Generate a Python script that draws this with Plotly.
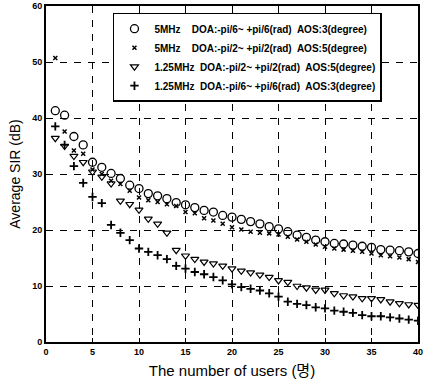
import plotly.graph_objects as go

users = list(range(1, 41))

sir_5mhz_pi6 = [41.3, 40.5, 36.7, 35.2, 32.1, 31.2, 30.1, 29.2, 28.0, 27.4,
                26.5, 26.1, 25.6, 24.9, 24.5, 24.0, 23.5, 23.2, 22.6, 22.3,
                21.9, 21.5, 21.1, 20.6, 20.2, 19.7, 19.1, 18.7, 18.2, 17.9,
                17.6, 17.5, 17.3, 17.1, 16.9, 16.5, 16.4, 16.3, 16.1, 15.8]

sir_5mhz_pi2 = [50.7, 37.6, 34.2, 33.6, 30.8, 30.0, 28.8, 28.2, 27.0, 25.8,
                25.3, 25.0, 24.6, 24.3, 23.2, 23.0, 22.1, 21.7, 21.1, 20.5,
                20.1, 19.7, 19.5, 19.4, 19.2, 18.8, 18.3, 17.9, 17.4, 17.0,
                16.7, 16.5, 16.3, 16.1, 15.8, 15.5, 15.3, 15.1, 14.8, 14.3]

sir_125mhz_pi2 = [36.4, 35.0, 33.2, 32.1, 30.4, 29.5, 28.3, 25.2, 24.6, 23.6,
                  22.0, 21.1, 19.5, 16.4, 15.4, 14.8, 14.3, 14.0, 13.6, 13.1,
                  12.7, 12.4, 12.0, 11.6, 11.0, 10.7, 10.0, 9.7, 9.3, 9.3,
                  8.7, 8.3, 8.1, 7.8, 7.8, 7.6, 7.2, 6.9, 6.7, 6.6]

sir_125mhz_pi6 = [38.5, 35.2, 31.4, 28.4, 25.9, 24.8, 20.9, 19.5, 18.2, 16.7,
                  16.1, 15.5, 14.8, 13.6, 13.1, 12.5, 12.1, 11.6, 11.0, 10.3,
                  9.8, 9.5, 9.2, 8.7, 8.1, 7.2, 6.8, 6.6, 6.2, 6.0,
                  5.6, 5.4, 5.2, 4.8, 4.6, 4.6, 4.4, 4.2, 4.0, 3.8]

names = [
    "5MHz    DOA:-pi/6~ +pi/6(rad)  AOS:3(degree)",
    "5MHz    DOA:-pi/2~ +pi/2(rad)  AOS:5(degree)",
    "1.25MHz  DOA:-pi/2~ +pi/2(rad)  AOS:5(degree)",
    "1.25MHz  DOA:-pi/6~ +pi/6(rad)  AOS:3(degree)",
]

x_ticks = [0, 5, 10, 15, 20, 25, 30, 35, 40]
y_ticks = [0, 10, 20, 30, 40, 50, 60]

fig = go.Figure()
fig.add_trace(go.Scatter(x=users, y=sir_5mhz_pi6, mode="markers", name=names[0],
                         marker=dict(symbol="circle-open", size=8, color="black",
                                     line=dict(width=1.3, color="black"))))
fig.add_trace(go.Scatter(x=users, y=sir_5mhz_pi2, mode="markers", name=names[1],
                         marker=dict(symbol="x-thin-open", size=4, color="black",
                                     line=dict(width=1.5, color="black"))))
fig.add_trace(go.Scatter(x=users, y=sir_125mhz_pi2, mode="markers", name=names[2],
                         marker=dict(symbol="triangle-down-open", size=7, color="black",
                                     line=dict(width=1.2, color="black"))))
fig.add_trace(go.Scatter(x=users, y=sir_125mhz_pi6, mode="markers", name=names[3],
                         marker=dict(symbol="cross-thin-open", size=6, color="black",
                                     line=dict(width=1.8, color="black"))))

axis_common = dict(
    showline=True, linecolor="black", linewidth=1.8, mirror=True,
    showgrid=True, gridcolor="black", gridwidth=1.2, griddash="7px,7px",
    zeroline=False, ticks="inside", ticklen=4, tickcolor="black",
    automargin=False, ticklabeloverflow="allow",
    tickfont=dict(family="Liberation Sans", size=9, color="black", weight="bold"),
)

fig.update_xaxes(range=[0, 40], tickvals=x_ticks,
                 title=dict(text="The number of users (명)", standoff=10,
                            font=dict(family="Liberation Sans, Noto Sans CJK KR", size=15, color="black")),
                 **axis_common)
fig.update_yaxes(range=[0, 60], tickvals=y_ticks,
                 title=dict(text="Average SIR (dB)", standoff=8,
                            font=dict(family="Liberation Sans", size=14, color="black")),
                 **axis_common)

fig.update_layout(
    width=424, height=385,
    margin=dict(l=46, r=6, t=6, b=43, autoexpand=False),
    plot_bgcolor="white", paper_bgcolor="white",
    showlegend=True,
    legend=dict(x=0.18, y=0.98, xanchor="left", yanchor="top",
                bgcolor="white", bordercolor="black", borderwidth=1.5,
                font=dict(family="Liberation Sans", size=10, color="black", weight="bold"),
                tracegroupgap=0),
)

fig.write_html("out.html",
               config={"displayModeBar": False},
               post_script="document.body.style.margin='0';document.body.style.overflow='hidden';")
